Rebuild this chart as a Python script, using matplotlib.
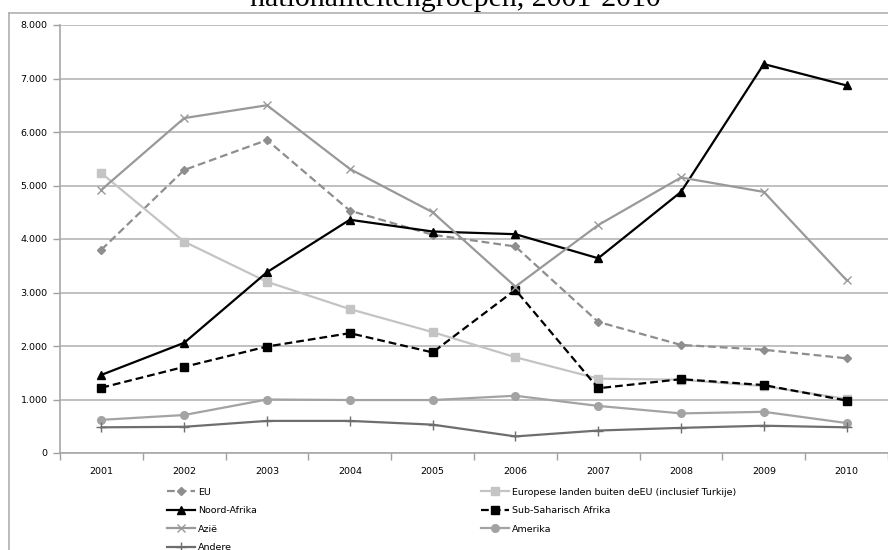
import matplotlib
matplotlib.use('Agg')
import matplotlib.pyplot as plt
from matplotlib.ticker import FuncFormatter, FixedLocator
from matplotlib.lines import Line2D

# jaren en aantallen per nationaliteitengroep
jaren = ['2001', '2002', '2003', '2004', '2005', '2006', '2007', '2008', '2009', '2010']
eu = [3800, 5290, 5850, 4530, 4080, 3860, 2450, 2020, 1930, 1770]
europa_buiten_eu = [5230, 3950, 3200, 2690, 2260, 1790, 1390, 1370, 1250, 1010]
noord_afrika = [1460, 2060, 3380, 4360, 4140, 4090, 3640, 4880, 7270, 6870]
sub_sahara = [1220, 1610, 1990, 2240, 1880, 3050, 1210, 1380, 1270, 980]
azie = [4920, 6260, 6500, 5310, 4500, 3110, 4260, 5150, 4880, 3230]
amerika = [620, 710, 1000, 990, 990, 1070, 880, 740, 770, 560]
andere = [480, 490, 600, 600, 530, 310, 420, 470, 510, 480]

titel = 'nationaliteitengroepen, 2001-2010'

plt.rcParams['font.family'] = ['DejaVu Sans']

fig = plt.figure(figsize=(8.88, 5.5), dpi=100)
ax = fig.add_axes([60 / 888, 97 / 550, 828 / 888, 428 / 550])

x = range(1, len(jaren) + 1)

reeksen = [
    ('EU', eu, dict(color='#8e8e8e', ls=(0, (3.5, 1.8)), marker='D', ms=4)),
    ('Europese landen buiten deEU (inclusief Turkije)', europa_buiten_eu,
     dict(color='#c4c4c4', ls='-', marker='s', ms=5.5)),
    ('Noord-Afrika', noord_afrika, dict(color='#000000', ls='-', marker='^', ms=5.5)),
    ('Sub-Saharisch Afrika', sub_sahara, dict(color='#000000', ls=(0, (3.5, 1.8)), marker='s', ms=5.5)),
    ('Azië', azie, dict(color='#999999', ls='-', marker='x', ms=5.5)),
    ('Amerika', amerika, dict(color='#a3a3a3', ls='-', marker='o', ms=5.5)),
    ('Andere', andere, dict(color='#6e6e6e', ls='-', marker='+', ms=6.5)),
]

handles = {}
for naam, waarden, stijl in reeksen:
    mk = stijl.pop('marker')
    (h,) = ax.plot(x, waarden, lw=1.6, marker=mk, mec=stijl['color'], mfc=stijl['color'],
                   mew=1.0, label=naam, **stijl)
    handles[naam] = h

ax.set_xlim(0.5, 10.5)
ax.set_ylim(0, 8000)
ax.set_yticks(range(0, 8001, 1000))
ax.yaxis.set_major_formatter(FuncFormatter(lambda v, p: f'{v:,.0f}'.replace(',', '.')))
ax.grid(axis='y', color='#c0c0c0', lw=1.4)
ax.set_axisbelow(True)

ax.set_xticks(list(x))
ax.set_xticklabels(jaren)
ax.xaxis.set_minor_locator(FixedLocator([i + 0.5 for i in range(0, 11)]))
ax.tick_params(axis='x', which='major', length=0, pad=10, labelsize=6.8)
ax.tick_params(axis='x', which='minor', length=5, color='#a0a0a0', width=1)
ax.tick_params(axis='y', length=5, color='#a0a0a0', width=1, labelsize=6.8, pad=4)

for kant in ['top', 'right']:
    ax.spines[kant].set_visible(False)
for kant in ['left', 'bottom']:
    ax.spines[kant].set_color('#a8a8a8')
    ax.spines[kant].set_linewidth(1.2)

# legenda in twee kolommen, rijgewijs gevuld
volgorde = ['EU', 'Noord-Afrika', 'Azië', 'Andere',
            'Europese landen buiten deEU (inclusief Turkije)', 'Sub-Saharisch Afrika', 'Amerika']
leg = fig.legend([handles[n] for n in volgorde], volgorde, ncol=2,
                 loc='upper left', bbox_to_anchor=(163 / 888, 1 - 484 / 550),
                 frameon=False, fontsize=6.8, handlelength=3.0, handletextpad=0.3,
                 columnspacing=23.7, labelspacing=1.0, borderaxespad=0)

# kaderlijnen van de grafiek
fig.add_artist(Line2D([8.5 / 888, 8.5 / 888], [0, 1 - 12.5 / 550], color='#b0b0b0', lw=1.2))
fig.add_artist(Line2D([8.5 / 888, 1], [1 - 12.5 / 550, 1 - 12.5 / 550], color='#b0b0b0', lw=1.2))

fig.text(455 / 888, 1 - 6 / 550, titel, ha='center', va='baseline',
         fontsize=21.5, family='Liberation Serif')

fig.savefig('out.png', dpi=100)
